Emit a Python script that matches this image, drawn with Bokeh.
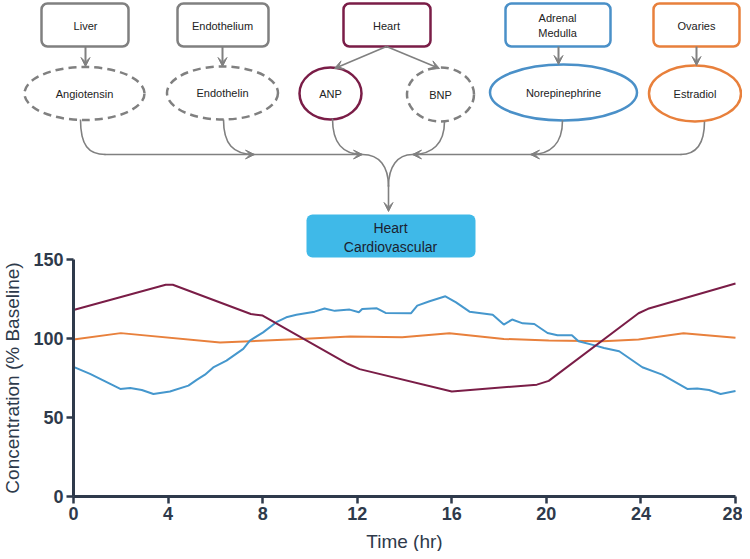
from bokeh.plotting import figure
from bokeh.models import Range1d, BoxAnnotation, Arrow, VeeHead, FixedTicker
from bokeh.core.properties import value
from bokeh.embed import file_html
from bokeh.resources import INLINE

# ---------------- data ----------------
anp_t = [0, 3.9, 4.2, 7.5, 8.0, 11.6, 12.1, 16.0, 19.6, 20.1, 23.9, 24.3, 28]
anp_v = [118, 134, 134, 115.5, 114.5, 84, 80.6, 66.5, 70.8, 73.2, 116, 118.8, 134.8]

est_t = [0, 2.0, 6.2, 9.6, 11.7, 13.9, 15.9, 18.2, 20.1, 22.4, 23.9, 25.8, 28]
est_v = [99.3, 103.4, 97.4, 99.7, 101.2, 100.8, 103.3, 99.7, 98.7, 98.2, 99.3, 103.3, 100.4]

ne_t = [0, 0.7, 1.98, 2.4, 2.89, 3.38, 4.08, 4.86, 5.21, 5.56,
        5.91, 6.47, 7.18, 7.46, 8.02, 8.58, 9.0, 9.43, 10.2, 10.62,
        11.05, 11.68, 12.07, 12.21, 12.83, 13.2, 14.28, 14.54, 15.06, 15.73,
        16.18, 16.75, 17.73, 18.2, 18.55, 19.0, 19.49, 20.05, 20.47, 21.08,
        21.36, 22.09, 22.44, 23.08, 24.06, 24.9, 25.96, 26.38, 26.88, 27.37, 28.0]
ne_v = [82.0, 77.6, 68.1, 68.7, 67.4, 64.9, 66.5, 70.2, 73.8, 77.1,
        81.7, 86.0, 93.4, 98.7, 103.9, 110.3, 113.4, 115.0, 117.0, 119.0,
        117.5, 118.3, 116.6, 118.7, 119.1, 116.2, 116.0, 120.8, 123.6, 126.7,
        122.9, 117.0, 115.0, 108.8, 112.0, 109.6, 109.2, 103.5, 102.0, 102.0,
        98.2, 95.5, 94.0, 91.9, 81.8, 77.1, 68.1, 68.4, 67.4, 64.9, 66.8]

x_ticks = [0, 4, 8, 12, 16, 20, 24, 28]
y_ticks = [0, 50, 100, 150]

# ---------------- styles ----------------
GRAY = "#808080"
MAROON = "#7A1D47"
BLUE = "#4A90C8"
LBLUE = "#4597CD"
ORANGE = "#E8803C"
SLATE = "#2E3A4B"
CYAN = "#3FB9E8"
FONT = value("Liberation Sans")

W, H = 742, 551
# chart frame placement in canvas pixels
X0_PX, X28_PX = 73, 735
Y0_PX, Y150_PX = 496, 259
kx = (X28_PX - X0_PX) / 28.0
ky = (Y0_PX - Y150_PX) / 150.0
xr = Range1d(-X0_PX / kx, 28 + (W - X28_PX) / kx)
yr = Range1d(-(H - Y0_PX) / ky, 150 + Y150_PX / ky)

p = figure(width=W, height=H, x_range=xr, y_range=yr, output_backend="svg",
           toolbar_location=None, title=None, min_border=0)
p.grid.visible = False
p.outline_line_color = None

# diagram coordinates: canvas pixels
p.extra_x_ranges = {"img": Range1d(0, W)}
p.extra_y_ranges = {"img": Range1d(H, 0)}
IMG = dict(x_range_name="img", y_range_name="img")

boxes = [
    (41, 128, 3, 46, GRAY, ["Liver"], 85),
    (177, 268, 3, 46, GRAY, ["Endothelium"], 222),
    (343, 430, 3, 46, MAROON, ["Heart"], 386),
    (505, 610, 3, 46, BLUE, ["Adrenal", "Medulla"], 557),
    (653, 739, 3, 46, ORANGE, ["Ovaries"], 696),
]
for l, r, t, b, c, lines, cx in boxes:
    p.add_layout(BoxAnnotation(left=l, right=r, top=t, bottom=b, fill_color="white",
                               fill_alpha=1, line_color=c, line_alpha=1, line_width=2.5,
                               border_radius=6, level="underlay", **IMG))
    ys = [25] if len(lines) == 1 else [17.5, 32.5]
    p.text(x=[cx] * len(lines), y=ys, text=lines, text_align="center",
           text_baseline="middle", text_font=FONT, text_font_size="11px",
           text_color="#222222", **IMG)

ellipses = [
    (84, 93, 120, 53, GRAY, "dashed", "Angiotensin"),
    (222, 92.5, 111, 53, GRAY, "dashed", "Endothelin"),
    (330, 93, 62, 52, MAROON, "solid", "ANP"),
    (440, 94, 67, 54, GRAY, "dashed", "BNP"),
    (563, 92, 147, 56, BLUE, "solid", "Norepinephrine"),
    (694.5, 93, 92, 56, ORANGE, "solid", "Estradiol"),
]
for x, y, w, h, c, d, lab in ellipses:
    p.ellipse(x=[x], y=[y], width=[w], height=[h], fill_color="white", line_color=c,
              line_width=2.5, line_dash="8 5" if d == "dashed" else "solid", **IMG)
    p.text(x=[x], y=[y], text=[lab], text_align="center", text_baseline="middle",
           text_font=FONT, text_font_size="11px", text_color="#222222", **IMG)


def arrow(x0, y0, x1, y1, lw=1.8, size=9, line=True):
    p.add_layout(Arrow(x_start=x0, y_start=y0, x_end=x1, y_end=y1, line_color=GRAY,
                       line_width=lw, line_alpha=1 if line else 0,
                       end=VeeHead(size=size, fill_color=GRAY, line_color=GRAY, line_width=1),
                       **IMG))


arrow(85, 46, 85, 66, lw=2)
arrow(222, 46, 222, 66, lw=2)
arrow(386, 46, 334, 68, lw=1.6)
arrow(386, 46, 439, 68, lw=1.6)
arrow(558, 46, 558, 64, lw=2)
arrow(696, 46, 696, 65, lw=2)

stems = [
    (80, 119, 105, 154, 80, 145, 88, 154),
    (223, 119, 254, 154, 223, 143, 232, 154),
    (332, 118, 362, 154, 332, 143, 342, 154),
    (444, 121, 412, 154, 444, 143, 432, 154),
    (562, 120, 530, 154, 562, 143, 550, 154),
    (704, 121, 680, 154, 704, 145, 695, 154),
    (362, 154, 388, 186, 379, 154, 388, 166),
    (412, 154, 388, 186, 397, 154, 388, 166),
]
p.bezier(x0=[s[0] for s in stems], y0=[s[1] for s in stems],
         x1=[s[2] for s in stems], y1=[s[3] for s in stems],
         cx0=[s[4] for s in stems], cy0=[s[5] for s in stems],
         cx1=[s[6] for s in stems], cy1=[s[7] for s in stems],
         line_color=GRAY, line_width=1.6, **IMG)
p.segment(x0=[104, 412], y0=[154, 154], x1=[362, 681], y1=[154, 154],
          line_color=GRAY, line_width=1.6, **IMG)
arrow(388, 185, 388, 211, lw=1.6)
arrow(244, 154, 254, 154, line=False)
arrow(352, 154, 362, 154, line=False)
arrow(422, 154, 412, 154, line=False)
arrow(540, 154, 530, 154, line=False)

# target box
p.add_layout(BoxAnnotation(left=306, right=475, top=214, bottom=257, fill_color=CYAN,
                           fill_alpha=1, line_color=None, border_radius=6,
                           level="underlay", **IMG))
p.text(x=[390, 390], y=[227, 246], text=["Heart", "Cardiovascular"],
       text_align="center", text_baseline="middle", text_font=FONT,
       text_font_size="14px", text_color="#1B2230", **IMG)

# ---------------- chart ----------------
p.line(est_t, est_v, line_color=ORANGE, line_width=2)
p.line(ne_t, ne_v, line_color=LBLUE, line_width=2)
p.line(anp_t, anp_v, line_color=MAROON, line_width=2)

for ax in (p.xaxis[0], p.yaxis[0]):
    ax.fixed_location = 0
    ax.axis_line_color = SLATE
    ax.axis_line_width = 3
    ax.major_tick_line_color = SLATE
    ax.major_tick_line_width = 2.5
    ax.major_tick_out = 7
    ax.major_tick_in = 0
    ax.minor_tick_line_color = None
    ax.major_label_text_font = "Liberation Sans"
    ax.major_label_text_font_style = "bold"
    ax.major_label_text_font_size = "18px"
    ax.major_label_text_color = SLATE
    ax.axis_label_text_font = "Liberation Sans"
    ax.axis_label_text_font_style = "normal"
    ax.axis_label_text_font_size = "19px"
    ax.axis_label_text_color = SLATE
    ax.major_label_standoff = 3

p.xaxis[0].axis_label_standoff = 8
p.yaxis[0].axis_label_standoff = 7
p.xaxis[0].ticker = FixedTicker(ticks=x_ticks)
p.yaxis[0].ticker = FixedTicker(ticks=y_ticks)
p.xaxis[0].bounds = (0, 28)
p.yaxis[0].bounds = (0, 150)
p.xaxis[0].axis_label = "Time (hr)"
p.yaxis[0].axis_label = "Concentration (% Baseline)"

open("out.html", "w").write(file_html(p, INLINE))
